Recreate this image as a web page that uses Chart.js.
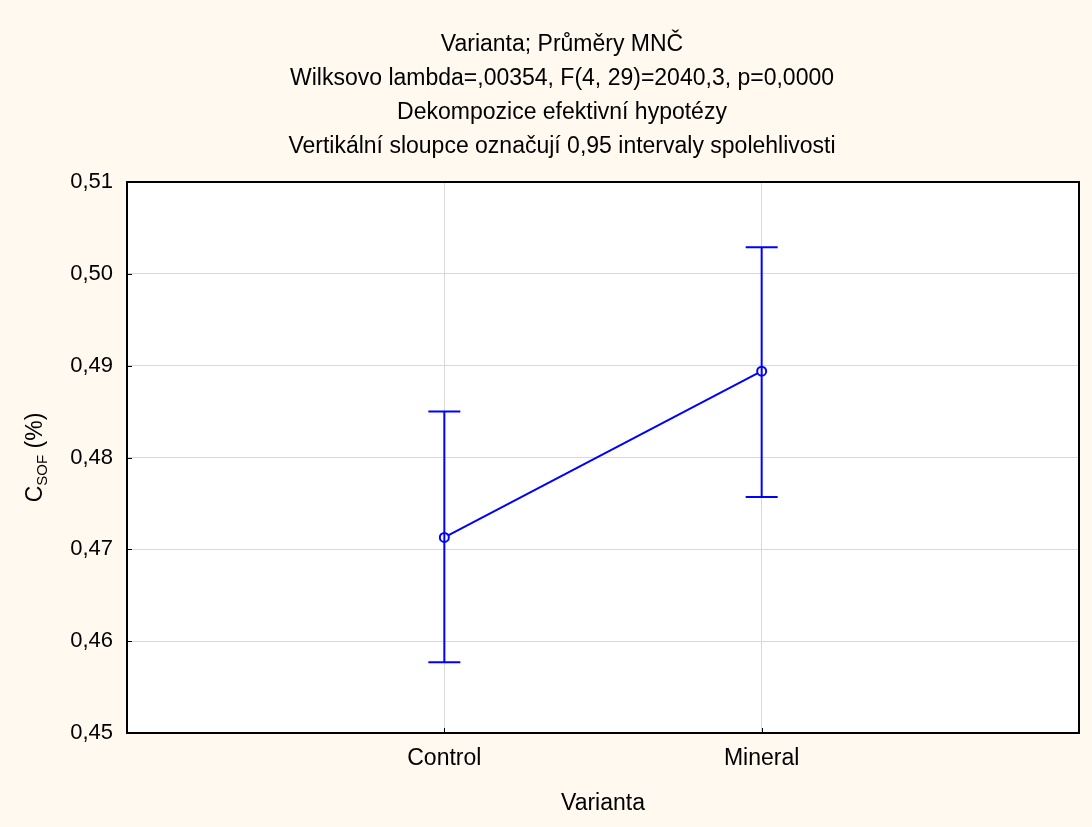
<!DOCTYPE html>
<html>
<head>
<meta charset="utf-8">
<script src="https://cdn.jsdelivr.net/npm/chart.js@4.4.1/dist/chart.umd.min.js"></script>
<style>
  html, body { margin: 0; padding: 0; background: #fff9ef; overflow: hidden; }
  canvas { display: block; }
</style>
</head>
<body>
<canvas id="chart" width="1092" height="827"></canvas>
<script>
// data
const categories = ['Control', 'Mineral'];
const means = [0.4713, 0.4894];
const lower = [0.4577, 0.4757];
const upper = [0.4850, 0.5029];
const yTicks = [0.45, 0.46, 0.47, 0.48, 0.49, 0.50, 0.51];

const titleLines = [
  'Varianta; Průměry MNČ',
  'Wilksovo lambda=,00354, F(4, 29)=2040,3, p=0,0000',
  'Dekompozice efektivní hypotézy',
  'Vertikální sloupce označují 0,95 intervaly spolehlivosti',
];
const xTitle = 'Varianta';

const FONT = '"Liberation Sans", Arial, sans-serif';
const BLUE = '#0000ff';

const datasets = [];
categories.forEach((c, i) => {
  datasets.push({
    label: 'ci ' + c,
    data: [{ x: i + 1, y: lower[i] }, { x: i + 1, y: upper[i] }],
    borderColor: BLUE,
    borderWidth: 2,
    pointStyle: 'line',
    pointRadius: 16,
    pointBorderWidth: 2,
    pointBorderColor: BLUE,
    fill: false,
  });
});
datasets.push({
  label: 'mean',
  data: means.map((m, i) => ({ x: i + 1, y: m })),
  borderColor: BLUE,
  borderWidth: 2,
  pointStyle: 'circle',
  pointRadius: 4.5,
  pointBorderWidth: 2,
  pointBorderColor: BLUE,
  pointBackgroundColor: '#ffffff',
  fill: false,
});

const decor = {
  id: 'decor',
  beforeDraw: chart => {
    const ctx = chart.ctx;
    const a = chart.chartArea;
    ctx.save();
    ctx.fillStyle = '#fff9ef';
    ctx.fillRect(0, 0, chart.width, chart.height);
    ctx.fillStyle = '#ffffff';
    ctx.fillRect(a.left, a.top, a.right - a.left, a.bottom - a.top);
    ctx.restore();
  },
  afterDraw: chart => {
    const ctx = chart.ctx;
    const a = chart.chartArea;
    ctx.save();
    // frame
    ctx.strokeStyle = '#000';
    ctx.lineWidth = 2;
    ctx.strokeRect(a.left, a.top, a.right - a.left, a.bottom - a.top);
    // inward ticks
    ctx.lineWidth = 1;
    chart.scales.y.ticks.forEach(t => {
      const y = Math.round(chart.scales.y.getPixelForValue(t.value)) + 0.5;
      ctx.beginPath(); ctx.moveTo(a.left, y); ctx.lineTo(a.left + 5, y); ctx.stroke();
    });
    chart.scales.x.ticks.forEach(t => {
      const x = Math.round(chart.scales.x.getPixelForValue(t.value)) + 0.5;
      ctx.beginPath(); ctx.moveTo(x, a.bottom); ctx.lineTo(x, a.bottom - 5); ctx.stroke();
    });
    // titles
    ctx.fillStyle = '#000';
    ctx.font = '23px ' + FONT;
    ctx.textAlign = 'center';
    ctx.textBaseline = 'alphabetic';
    titleLines.forEach((t, i) => ctx.fillText(t, 562, 50.5 + i * 34.3));
    // x title
    ctx.fillText(xTitle, (a.left + a.right) / 2, 810);
    // y title with subscript
    ctx.translate(42, (a.top + a.bottom) / 2);
    ctx.rotate(-Math.PI / 2);
    ctx.textAlign = 'left';
    ctx.font = '23px ' + FONT;
    const wC = ctx.measureText('C').width;
    const wP = ctx.measureText(' (%)').width;
    ctx.font = '15px ' + FONT;
    const wS = ctx.measureText('SOF').width;
    let x0 = -(wC + wS + wP) / 2;
    ctx.font = '23px ' + FONT;
    ctx.fillText('C', x0, 0);
    ctx.font = '15px ' + FONT;
    ctx.fillText('SOF', x0 + wC, 5);
    ctx.font = '23px ' + FONT;
    ctx.fillText(' (%)', x0 + wC + wS, 0);
    ctx.restore();
  }
};

new Chart(document.getElementById('chart'), {
  type: 'line',
  data: { datasets: datasets },
  plugins: [decor],
  options: {
    responsive: false,
    animation: false,
    layout: { autoPadding: false, padding: { top: 182, right: 13, bottom: 0, left: 0 } },
    plugins: { legend: { display: false }, tooltip: { enabled: false }, title: { display: false } },
    scales: {
      x: {
        type: 'linear',
        min: 0,
        max: categories.length + 1,
        afterFit: scale => { scale.height = 94; },
        afterBuildTicks: axis => { axis.ticks = categories.map((_, i) => ({ value: i + 1 })); },
        grid: { color: '#d9d9d9', drawTicks: false },
        border: { display: false },
        ticks: {
          padding: 12,
          color: '#000',
          font: { family: FONT, size: 23 },
          autoSkip: false,
          maxRotation: 0,
          callback: v => categories[v - 1],
        },
      },
      y: {
        type: 'linear',
        min: yTicks[0],
        max: yTicks[yTicks.length - 1],
        afterFit: scale => { scale.width = 127; },
        afterBuildTicks: axis => { axis.ticks = yTicks.map(v => ({ value: v })); },
        grid: { color: '#d9d9d9', drawTicks: false },
        border: { display: false },
        ticks: {
          padding: 14,
          color: '#000',
          font: { family: FONT, size: 22 },
          callback: v => v.toFixed(2).replace('.', ','),
        },
      },
    },
  },
});
</script>
</body>
</html>
